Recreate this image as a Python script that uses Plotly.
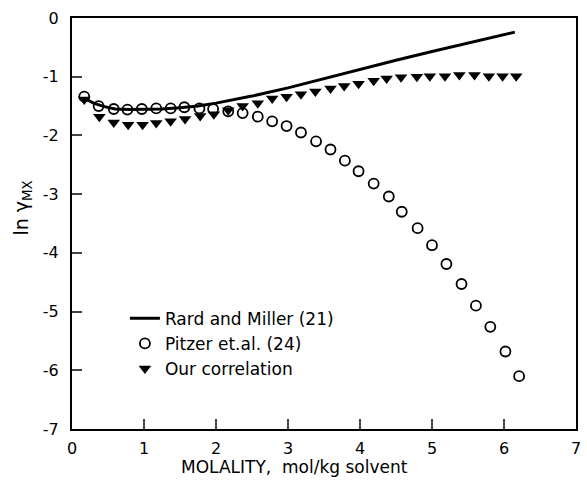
import plotly.graph_objects as go

# Rard and Miller (21) - solid line
rard_x = [0.17, 0.3, 0.45, 0.6, 0.8, 1.0, 1.25, 1.5, 1.75, 2.0, 2.5, 3.0, 3.5, 4.0, 4.5, 5.0, 5.5, 6.0, 6.15]
rard_y = [-1.37, -1.45, -1.51, -1.55, -1.56, -1.56, -1.55, -1.53, -1.50, -1.45, -1.33, -1.19, -1.03, -0.87, -0.72, -0.57, -0.43, -0.28, -0.24]

# Pitzer et.al. (24) - open circles
pitzer_x = [0.17, 0.37, 0.58, 0.77, 0.97, 1.17, 1.37, 1.56, 1.77, 1.96, 2.17, 2.37, 2.58, 2.78, 2.98, 3.18,
            3.39, 3.59, 3.79, 3.98, 4.19, 4.40, 4.58, 4.80, 5.00, 5.20, 5.41, 5.61, 5.81, 6.02, 6.21]
pitzer_y = [-1.34, -1.50, -1.55, -1.56, -1.55, -1.54, -1.54, -1.52, -1.54, -1.55, -1.59, -1.62, -1.68, -1.76, -1.84, -1.95,
            -2.10, -2.24, -2.43, -2.61, -2.82, -3.04, -3.30, -3.58, -3.87, -4.19, -4.53, -4.90, -5.26, -5.68, -6.10]

# Our correlation - filled down triangles
ours_x = [0.17, 0.38, 0.58, 0.78, 0.98, 1.17, 1.37, 1.57, 1.78, 1.97, 2.17, 2.37, 2.58, 2.78, 2.98, 3.18,
          3.38, 3.59, 3.78, 3.98, 4.19, 4.37, 4.57, 4.79, 4.97, 5.18, 5.38, 5.59, 5.79, 5.98, 6.17]
ours_y = [-1.39, -1.68, -1.78, -1.82, -1.82, -1.79, -1.76, -1.72, -1.67, -1.64, -1.57, -1.50, -1.45, -1.37, -1.34, -1.30,
          -1.25, -1.20, -1.16, -1.12, -1.07, -1.03, -1.01, -1.00, -0.99, -0.99, -0.97, -0.97, -0.99, -0.99, -0.99]

x_ticks = [0, 1, 2, 3, 4, 5, 6, 7]
x_ticktext = ["0", "1", "2", "3", "4", "5", "6", "7"]
y_ticks = [0, -1, -2, -3, -4, -5, -6, -7]
y_ticktext = ["0", "-1", "-2", "-3", "-4", "-5", "-6", "-7"]

FONT = "DejaVu Sans"

fig = go.Figure()
fig.add_trace(go.Scatter(x=rard_x, y=rard_y, mode="lines", name="Rard and Miller (21)",
                         line=dict(color="black", width=3)))
fig.add_trace(go.Scatter(x=pitzer_x, y=pitzer_y, mode="markers", name="Pitzer et.al. (24)",
                         marker=dict(symbol="circle-open", size=10, color="black", line=dict(width=1.8))))
fig.add_trace(go.Scatter(x=ours_x, y=ours_y, mode="markers", name="Our correlation",
                         marker=dict(symbol="triangle-down", size=11, color="black")))

fig.update_layout(
    width=587, height=488,
    margin=dict(l=72, r=6, t=18, b=59),
    paper_bgcolor="white", plot_bgcolor="white",
    font=dict(family=FONT, color="black", size=16),
    showlegend=True,
    legend=dict(x=0.105, y=0.312, xanchor="left", yanchor="top", bgcolor="rgba(0,0,0,0)",
                font=dict(size=17, family=FONT), tracegroupgap=0, itemwidth=30),
    annotations=[
        dict(text="ln γ<sub>MX</sub>", xref="paper", yref="paper", x=-0.098, y=0.538,
             xanchor="center", yanchor="middle",
             showarrow=False, textangle=-90, font=dict(size=19, family=FONT)),
        dict(text="MOLALITY,  mol/kg solvent", xref="paper", yref="paper", x=0.442, y=-0.093,
             xanchor="center", yanchor="middle", showarrow=False, font=dict(size=17, family=FONT)),
    ],
)
fig.update_xaxes(range=[0, 7], tickvals=x_ticks, ticktext=x_ticktext, ticks="inside", ticklen=10, tickwidth=1.5,
                 showline=True, linewidth=2, linecolor="black", mirror=True, showgrid=False, zeroline=False,
                 tickfont=dict(size=16), ticklabelstandoff=4)
fig.update_yaxes(range=[-7, 0], tickvals=y_ticks, ticktext=y_ticktext, ticks="inside", ticklen=10, tickwidth=1.5,
                 showline=True, linewidth=2, linecolor="black", mirror=True, showgrid=False, zeroline=False,
                 tickfont=dict(size=16), ticklabelstandoff=8)

fig.write_html("out.html")
